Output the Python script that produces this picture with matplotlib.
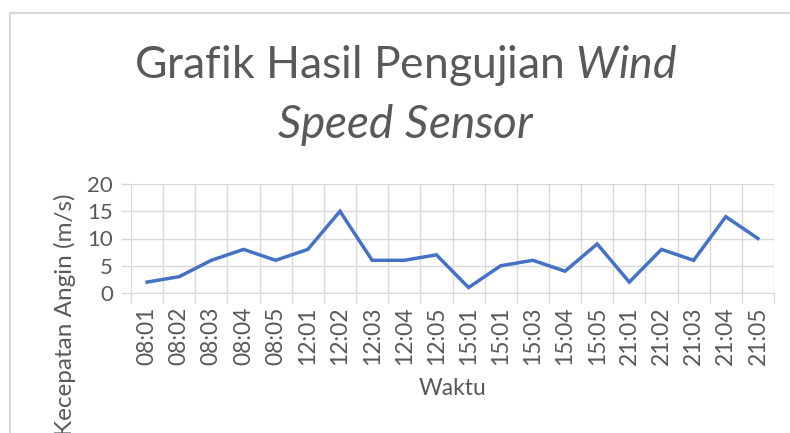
import matplotlib
matplotlib.use("Agg")
import matplotlib.pyplot as plt
from matplotlib.lines import Line2D
import numpy as np

# data
waktu = ["08:01", "08:02", "08:03", "08:04", "08:05",
         "12:01", "12:02", "12:03", "12:04", "12:05",
         "15:01", "15:01", "15:03", "15:04", "15:05",
         "21:01", "21:02", "21:03", "21:04", "21:05"]
kecepatan = [2, 3, 6, 8, 6, 8, 15, 6, 6, 7, 1, 5, 6, 4, 9, 2, 8, 6, 14, 10]
y_ticks = [0, 5, 10, 15, 20]

txt = "#595959"
grid = "#d9d9d9"
blue = "#4472C4"

plt.rcParams["font.family"] = ["Lato", "DejaVu Sans"]
plt.rcParams["mathtext.fontset"] = "custom"
plt.rcParams["mathtext.rm"] = "Lato"
plt.rcParams["mathtext.it"] = "Lato:italic"

W, H = 790, 433
fig = plt.figure(figsize=(W / 100, H / 100), dpi=100)
ax = fig.add_axes([131 / W, 1 - 293 / H, (774 - 131) / W, (293 - 184) / H])

x = np.arange(len(waktu))
ax.plot(x, kecepatan, color=blue, lw=2.5, solid_joinstyle="miter", zorder=3)

ax.set_xlim(-0.5, len(waktu) - 0.5)
ax.set_ylim(0, 20)
ax.set_yticks(y_ticks)
ax.set_yticklabels([str(v) for v in y_ticks])
ax.set_xticks(x)
ax.set_xticklabels(waktu, rotation=90)
ax.set_xticks(np.arange(len(waktu) + 1) - 0.5, minor=True)

ax.tick_params(axis="x", which="major", length=0, pad=10, labelsize=16.5, labelcolor=txt)
ax.tick_params(axis="x", which="minor", length=7, color=grid, width=1)
ax.tick_params(axis="y", length=7, color=grid, width=1, pad=6, labelsize=16, labelcolor=txt)

ax.grid(True, axis="y", color=grid, lw=1)
ax.grid(True, axis="x", which="minor", color=grid, lw=1)
for s in ax.spines.values():
    s.set_visible(False)
ax.spines["bottom"].set_visible(True)
ax.spines["bottom"].set_color(grid)

ax.set_xlabel("Waktu", fontsize=16.5, color=txt, labelpad=9)

# axis title on the left
fig.text(65 / W, 1 - 193 / H, "Kecepatan Angin (m/s)", rotation=90,
         ha="center", va="top", fontsize=17.5, color=txt)

# chart title, partly italic
fig.text(406 / W, 1 - 66 / H, r"Grafik Hasil Pengujian $\mathit{Wind}$",
         ha="center", va="center", fontsize=32, color=txt)
fig.text(406 / W, 1 - 125 / H, r"$\mathit{Speed\ Sensor}$",
         ha="center", va="center", fontsize=33, color=txt)

# chart area border (cropped at right and bottom)
fig.add_artist(Line2D([10 / W, 10 / W], [0, 1 - 13 / H], color=grid, lw=1.5))
fig.add_artist(Line2D([10 / W, 1], [1 - 13 / H, 1 - 13 / H], color=grid, lw=1.5))

fig.savefig("out.png", dpi=100)
